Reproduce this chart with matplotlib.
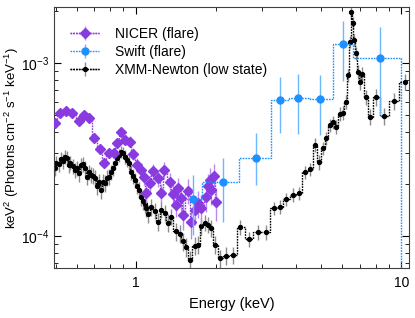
import matplotlib
matplotlib.use("Agg")
import matplotlib.pyplot as plt
from matplotlib.lines import Line2D
from matplotlib.legend_handler import HandlerTuple
from matplotlib.ticker import FuncFormatter, NullFormatter
import numpy as np

plt.rcParams["font.family"] = ["Liberation Sans", "DejaVu Sans"]
plt.rcParams["mathtext.fontset"] = "custom"
plt.rcParams["mathtext.rm"] = "Liberation Sans"
plt.rcParams["mathtext.it"] = "Liberation Sans:italic"

# NICER (flare)
nicer_e = [0.496, 0.518, 0.549, 0.578, 0.612, 0.639, 0.670, 0.699, 0.732, 0.760,
           0.792, 0.827, 0.853, 0.884, 0.913, 0.952, 0.977, 1.011, 1.044, 1.072,
           1.097, 1.129, 1.164, 1.213, 1.249, 1.282, 1.342, 1.381, 1.414, 1.443,
           1.486, 1.507, 1.573, 1.621, 1.667, 1.716, 1.767, 1.845, 1.871, 1.898,
           1.927, 1.966, 2.009]
nicer_f = [4.51e-4, 5.16e-4, 5.26e-4, 5.16e-4, 4.65e-4, 5.04e-4, 4.79e-4, 3.71e-4, 3.17e-4, 2.66e-4,
           3.04e-4, 3.04e-4, 3.44e-4, 3.98e-4, 3.60e-4, 3.52e-4, 2.98e-4, 2.58e-4, 2.41e-4, 2.20e-4,
           1.77e-4, 2.02e-4, 2.36e-4, 2.16e-4, 1.77e-4, 2.41e-4, 2.04e-4, 1.75e-4, 1.51e-4, 1.89e-4,
           1.65e-4, 1.32e-4, 1.83e-4, 1.20e-4, 1.42e-4, 1.55e-4, 1.45e-4, 1.67e-4, 1.95e-4, 2.10e-4,
           1.85e-4, 2.21e-4, 1.56e-4]
nicer_rel = [0.03, 0.03, 0.03, 0.03, 0.04, 0.04, 0.04, 0.05, 0.05, 0.06,
             0.06, 0.06, 0.06, 0.06, 0.07, 0.07, 0.08, 0.09, 0.09, 0.10,
             0.12, 0.11, 0.10, 0.11, 0.13, 0.11, 0.13, 0.14, 0.15, 0.14,
             0.16, 0.18, 0.16, 0.20, 0.19, 0.18, 0.19, 0.18, 0.17, 0.17,
             0.19, 0.18, 0.22]

# Swift (flare)
swift_e = [1.644, 2.13, 2.83, 3.48, 4.10, 4.96, 6.03, 8.29]
swift_f = [1.64e-4, 2.06e-4, 2.82e-4, 6.13e-4, 6.32e-4, 6.19e-4, 1.288e-3, 1.07e-3]
swift_lo = [1.01e-4, 1.21e-4, 1.97e-4, 3.96e-4, 3.90e-4, 3.85e-4, 7.93e-4, 5.0e-4]
swift_hi = [2.25e-4, 2.83e-4, 3.94e-4, 8.33e-4, 8.67e-4, 8.56e-4, 1.766e-3, 1.63e-3]
swift_edges = [1.55, 1.77, 2.44, 3.22, 3.77, 4.52, 5.51, 6.56, 10.0]

# XMM-Newton (low state)
xmm_e = [0.496, 0.504, 0.513, 0.522, 0.531, 0.541, 0.550, 0.560, 0.569, 0.579,
         0.590, 0.600, 0.610, 0.621, 0.632, 0.643, 0.654, 0.666, 0.677, 0.689,
         0.701, 0.713, 0.726, 0.739, 0.752, 0.765, 0.778, 0.792, 0.805, 0.819,
         0.834, 0.848, 0.863, 0.878, 0.893, 0.909, 0.925, 0.941, 0.958, 0.974,
         0.991, 1.009, 1.026, 1.044, 1.063, 1.081,
         1.097, 1.114, 1.146, 1.179, 1.213, 1.249, 1.286, 1.323, 1.363, 1.414,
         1.464, 1.507, 1.552, 1.607, 1.667, 1.716, 1.767, 1.818, 1.871, 1.915,
         1.983, 2.084, 2.194, 2.324, 2.478, 2.662, 2.886, 3.104, 3.307, 3.483,
         3.692, 3.909, 4.125, 4.352, 4.545, 4.718, 4.884, 5.071, 5.222, 5.373,
         5.529, 5.694, 5.860, 6.014, 6.172, 6.296, 6.390, 6.484, 6.558, 6.644,
         6.730, 6.866, 7.010, 7.133, 7.339, 7.644, 8.052, 8.578, 9.378, 10.29]
xmm_f = [2.48e-4, 2.65e-4, 2.60e-4, 2.79e-4, 2.72e-4, 2.87e-4, 2.83e-4, 2.58e-4, 2.65e-4, 2.54e-4,
         2.41e-4, 2.48e-4, 2.30e-4, 2.58e-4, 2.61e-4, 2.48e-4, 2.20e-4, 2.35e-4, 2.26e-4, 2.23e-4,
         2.17e-4, 1.95e-4, 2.06e-4, 1.85e-4, 2.06e-4, 2.02e-4, 2.17e-4, 2.20e-4, 2.35e-4, 2.48e-4,
         2.65e-4, 2.83e-4, 2.94e-4, 3.07e-4, 3.02e-4, 2.87e-4, 2.75e-4, 2.65e-4, 2.35e-4, 2.23e-4,
         2.11e-4, 1.95e-4, 1.85e-4, 1.68e-4, 1.59e-4, 1.53e-4,
         1.45e-4, 1.34e-4, 1.47e-4, 1.40e-4, 1.21e-4, 1.42e-4, 1.36e-4, 1.19e-4, 1.29e-4, 1.06e-4,
         1.03e-4, 9.27e-5, 8.64e-5, 7.26e-5, 8.75e-5, 8.87e-5, 1.14e-4, 1.19e-4, 1.16e-4, 1.11e-4,
         8.87e-5, 7.43e-5, 7.66e-5, 7.76e-5, 1.12e-4, 9.57e-5, 1.05e-4, 1.05e-4, 1.45e-4, 1.47e-4,
         1.63e-4, 1.73e-4, 1.77e-4, 2.33e-4, 2.44e-4, 3.37e-4, 2.69e-4, 3.22e-4, 3.68e-4, 4.39e-4,
         4.57e-4, 4.28e-4, 5.09e-4, 5.16e-4, 5.99e-4, 8.55e-4, 1.334e-3, 1.99e-3, 1.718e-3, 1.364e-3,
         1.143e-3, 8.94e-4, 7.82e-4, 8.67e-4, 6.36e-4, 4.91e-4, 6.36e-4, 4.95e-4, 6.05e-4, 7.82e-4]
xmm_rel = [0.10, 0.09, 0.10, 0.09, 0.10, 0.09, 0.10, 0.10, 0.09, 0.10,
           0.10, 0.10, 0.11, 0.10, 0.10, 0.10, 0.11, 0.10, 0.11, 0.11,
           0.11, 0.12, 0.11, 0.12, 0.11, 0.11, 0.11, 0.11, 0.10, 0.10,
           0.09, 0.09, 0.09, 0.08, 0.08, 0.09, 0.09, 0.09, 0.10, 0.10,
           0.10, 0.10, 0.11, 0.11, 0.11, 0.11,
           0.11, 0.12, 0.11, 0.11, 0.12, 0.11, 0.11, 0.12, 0.11, 0.12,
           0.12, 0.12, 0.13, 0.13, 0.12, 0.12, 0.11, 0.11, 0.11, 0.11,
           0.12, 0.12, 0.12, 0.11, 0.10, 0.10, 0.10, 0.10, 0.09, 0.09,
           0.09, 0.09, 0.09, 0.09, 0.09, 0.09, 0.10, 0.09, 0.09, 0.09,
           0.09, 0.09, 0.09, 0.09, 0.09, 0.09, 0.08, 0.08, 0.08, 0.08,
           0.09, 0.09, 0.10, 0.10, 0.10, 0.11, 0.11, 0.11, 0.11, 0.11]

purple = "#8a3be0"
blue = "#1e90ff"
dots = (0, (1.2, 0.8))

fig = plt.figure(figsize=(4.15, 3.18), dpi=100)
ax = fig.add_axes([0.130, 0.157, 0.8555, 0.821])

xf = np.array(xmm_f)
xe = ax.errorbar(xmm_e, xmm_f, yerr=xf * np.array(xmm_rel), fmt="o", ms=2.8,
                 color="black", ecolor="0.55", elinewidth=1, capsize=0,
                 ls=dots, lw=1, drawstyle="steps-mid", zorder=2)

nf = np.array(nicer_f)
ne = ax.errorbar(nicer_e, nicer_f, yerr=nf * np.array(nicer_rel), fmt="D", ms=5,
                 color=purple, ecolor="#b88af2", elinewidth=1, capsize=0,
                 ls=dots, lw=1, drawstyle="steps-mid", zorder=3)

sf = np.array(swift_f)
se = ax.errorbar(swift_e, swift_f, yerr=[sf - np.array(swift_lo), np.array(swift_hi) - sf],
                 fmt="o", ms=5, color=blue, ecolor="#6cb8ff", elinewidth=1, capsize=0,
                 ls="none", zorder=4)
ax.stairs(swift_f, swift_edges, baseline=None, color=blue, ls=dots, lw=1, zorder=4)

ymin, ymax = 6.5e-5, 2.12e-3
ax.plot([swift_edges[-1], swift_edges[-1]], [swift_f[-1], ymin], color=blue, ls=dots, lw=1)

ax.set_xscale("log")
ax.set_yscale("log")
ax.set_xlim(0.493, 10.68)
ax.set_ylim(ymin, ymax)
ax.xaxis.set_major_formatter(FuncFormatter(lambda v, p: f"{v:g}"))
ax.xaxis.set_minor_formatter(NullFormatter())

ax.tick_params(which="both", direction="in", top=True, right=True, labelsize=10)
ax.tick_params(which="major", length=5)
ax.tick_params(which="minor", length=3)
ax.tick_params(axis="x", pad=6)
for s in ax.spines.values():
    s.set_color("0.25")

ax.set_xlabel("Energy (keV)", fontsize=10.5, labelpad=5)
ax.set_ylabel("keV$^2$ (Photons cm$^{-2}$ s$^{-1}$ keV$^{-1}$)", fontsize=9.5)
ax.yaxis.set_label_coords(-0.092, 0.5)

lines = [Line2D([], [], color=c, ls=dots, lw=1) for c in (purple, blue, "black")]
handles = [(lines[0], ne), (lines[1], se), (lines[2], xe)]
ax.legend(handles, ["NICER (flare)", "Swift (flare)", "XMM-Newton (low state)"],
          handler_map={tuple: HandlerTuple(ndivide=1)}, loc="upper left",
          bbox_to_anchor=(0.03, 0.945), frameon=False, fontsize=10,
          handlelength=2.1, labelspacing=0.3, handletextpad=1.15, borderaxespad=0)

fig.savefig("out.png", dpi=100)
